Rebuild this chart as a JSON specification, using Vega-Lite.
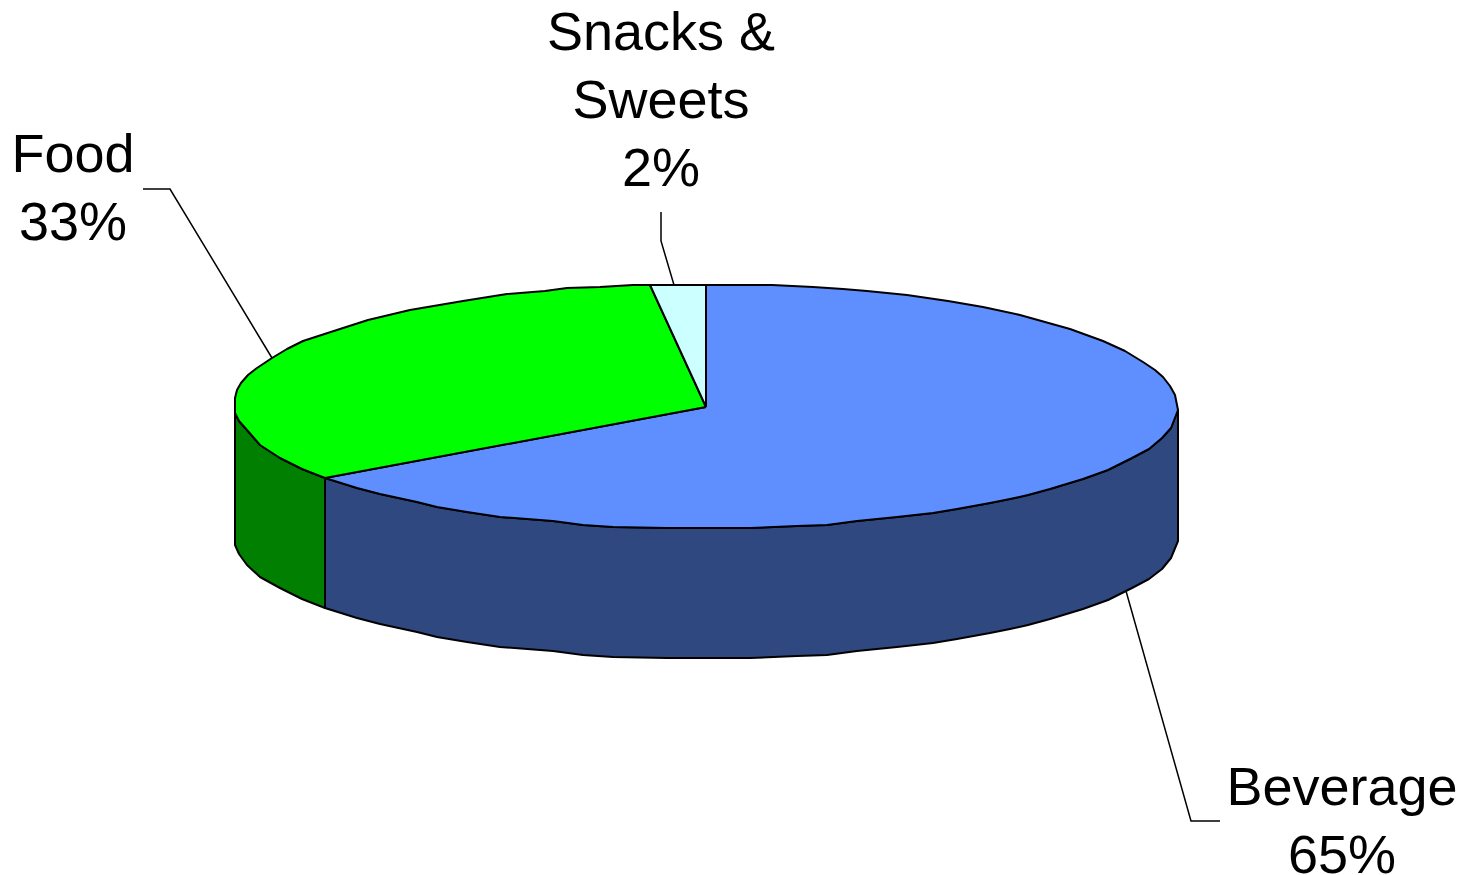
{"$schema":"https://vega.github.io/schema/vega-lite/v6.json","width":1477,"height":875,"padding":0,"autosize":"none","background":"white","view":{"stroke":null},
"datasets":{
"shapes":[
{"part":"Food side","i":0,"x":235,"y":413},{"part":"Food side","i":0.5,"x":239,"y":421},{"part":"Food side","i":1,"x":247,"y":430},{"part":"Food side","i":2,"x":260,"y":445},{"part":"Food side","i":3,"x":280,"y":458},{"part":"Food side","i":3.5,"x":302,"y":469},{"part":"Food side","i":4,"x":325,"y":478},{"part":"Food side","i":5,"x":325,"y":608},{"part":"Food side","i":5.5,"x":302,"y":599},{"part":"Food side","i":6,"x":280,"y":588},{"part":"Food side","i":7,"x":260,"y":577},{"part":"Food side","i":8,"x":247,"y":565},{"part":"Food side","i":9,"x":239,"y":554},{"part":"Food side","i":10,"x":235,"y":545},{"part":"Food side","i":11,"x":235,"y":413},
{"part":"Beverage side","i":0,"x":325,"y":478},{"part":"Beverage side","i":1,"x":357,"y":488},{"part":"Beverage side","i":2,"x":380,"y":494},{"part":"Beverage side","i":3,"x":417,"y":502},{"part":"Beverage side","i":4,"x":437,"y":507},{"part":"Beverage side","i":5,"x":467,"y":512},{"part":"Beverage side","i":6,"x":500,"y":517},{"part":"Beverage side","i":7,"x":553,"y":521},{"part":"Beverage side","i":8,"x":583,"y":525},{"part":"Beverage side","i":9,"x":613,"y":527},{"part":"Beverage side","i":10,"x":667,"y":528},{"part":"Beverage side","i":11,"x":717,"y":528},{"part":"Beverage side","i":12,"x":750,"y":528},{"part":"Beverage side","i":13,"x":797,"y":526},{"part":"Beverage side","i":14,"x":827,"y":525},{"part":"Beverage side","i":15,"x":857,"y":521},{"part":"Beverage side","i":16,"x":897,"y":517},{"part":"Beverage side","i":17,"x":933,"y":513},{"part":"Beverage side","i":18,"x":957,"y":509},{"part":"Beverage side","i":19,"x":990,"y":503},{"part":"Beverage side","i":20,"x":1010,"y":499},{"part":"Beverage side","i":21,"x":1028,"y":495},{"part":"Beverage side","i":22,"x":1050,"y":489},{"part":"Beverage side","i":23,"x":1083,"y":479},{"part":"Beverage side","i":23.5,"x":1108,"y":470},{"part":"Beverage side","i":24,"x":1132,"y":458},{"part":"Beverage side","i":24.5,"x":1149,"y":449},{"part":"Beverage side","i":25,"x":1162,"y":438},{"part":"Beverage side","i":25.5,"x":1171,"y":428},{"part":"Beverage side","i":26,"x":1178,"y":410},{"part":"Beverage side","i":27,"x":1178,"y":541},{"part":"Beverage side","i":28,"x":1171,"y":558},{"part":"Beverage side","i":29,"x":1162,"y":569},{"part":"Beverage side","i":29.5,"x":1149,"y":579},{"part":"Beverage side","i":30,"x":1132,"y":588},{"part":"Beverage side","i":30.5,"x":1108,"y":600},{"part":"Beverage side","i":31,"x":1083,"y":609},{"part":"Beverage side","i":32,"x":1050,"y":619},{"part":"Beverage side","i":33,"x":1028,"y":625},{"part":"Beverage side","i":34,"x":1010,"y":629},{"part":"Beverage side","i":35,"x":990,"y":633},{"part":"Beverage side","i":36,"x":957,"y":639},{"part":"Beverage side","i":37,"x":933,"y":643},{"part":"Beverage side","i":38,"x":897,"y":647},{"part":"Beverage side","i":39,"x":857,"y":651},{"part":"Beverage side","i":40,"x":827,"y":655},{"part":"Beverage side","i":41,"x":797,"y":656},{"part":"Beverage side","i":42,"x":750,"y":658},{"part":"Beverage side","i":43,"x":717,"y":658},{"part":"Beverage side","i":44,"x":667,"y":658},{"part":"Beverage side","i":45,"x":613,"y":657},{"part":"Beverage side","i":46,"x":583,"y":655},{"part":"Beverage side","i":47,"x":553,"y":651},{"part":"Beverage side","i":48,"x":500,"y":647},{"part":"Beverage side","i":49,"x":467,"y":642},{"part":"Beverage side","i":50,"x":437,"y":637},{"part":"Beverage side","i":51,"x":417,"y":632},{"part":"Beverage side","i":52,"x":380,"y":624},{"part":"Beverage side","i":53,"x":357,"y":618},{"part":"Beverage side","i":54,"x":325,"y":608},{"part":"Beverage side","i":55,"x":325,"y":478},
{"part":"Beverage top","i":0,"x":706,"y":407},{"part":"Beverage top","i":1,"x":706,"y":285},{"part":"Beverage top","i":2,"x":772,"y":285},{"part":"Beverage top","i":3,"x":813,"y":287},{"part":"Beverage top","i":4,"x":843,"y":289},{"part":"Beverage top","i":5,"x":867,"y":291},{"part":"Beverage top","i":6,"x":907,"y":295},{"part":"Beverage top","i":7,"x":948,"y":301},{"part":"Beverage top","i":8,"x":983,"y":307},{"part":"Beverage top","i":9,"x":1020,"y":315},{"part":"Beverage top","i":10,"x":1045,"y":322},{"part":"Beverage top","i":11,"x":1070,"y":329},{"part":"Beverage top","i":12,"x":1103,"y":341},{"part":"Beverage top","i":12.5,"x":1125,"y":351},{"part":"Beverage top","i":13,"x":1143,"y":362},{"part":"Beverage top","i":13.5,"x":1155,"y":370},{"part":"Beverage top","i":14,"x":1163,"y":377},{"part":"Beverage top","i":14.5,"x":1170,"y":386},{"part":"Beverage top","i":15,"x":1175,"y":395},{"part":"Beverage top","i":16,"x":1178,"y":410},{"part":"Beverage top","i":16.5,"x":1171,"y":428},{"part":"Beverage top","i":17,"x":1162,"y":438},{"part":"Beverage top","i":17.5,"x":1149,"y":449},{"part":"Beverage top","i":18,"x":1132,"y":458},{"part":"Beverage top","i":18.5,"x":1108,"y":470},{"part":"Beverage top","i":19,"x":1083,"y":479},{"part":"Beverage top","i":20,"x":1050,"y":489},{"part":"Beverage top","i":21,"x":1028,"y":495},{"part":"Beverage top","i":22,"x":1010,"y":499},{"part":"Beverage top","i":23,"x":990,"y":503},{"part":"Beverage top","i":24,"x":957,"y":509},{"part":"Beverage top","i":25,"x":933,"y":513},{"part":"Beverage top","i":26,"x":897,"y":517},{"part":"Beverage top","i":27,"x":857,"y":521},{"part":"Beverage top","i":28,"x":827,"y":525},{"part":"Beverage top","i":29,"x":797,"y":526},{"part":"Beverage top","i":30,"x":750,"y":528},{"part":"Beverage top","i":31,"x":717,"y":528},{"part":"Beverage top","i":32,"x":667,"y":528},{"part":"Beverage top","i":33,"x":613,"y":527},{"part":"Beverage top","i":34,"x":583,"y":525},{"part":"Beverage top","i":35,"x":553,"y":521},{"part":"Beverage top","i":36,"x":500,"y":517},{"part":"Beverage top","i":37,"x":467,"y":512},{"part":"Beverage top","i":38,"x":437,"y":507},{"part":"Beverage top","i":39,"x":417,"y":502},{"part":"Beverage top","i":40,"x":380,"y":494},{"part":"Beverage top","i":41,"x":357,"y":488},{"part":"Beverage top","i":42,"x":325,"y":478},{"part":"Beverage top","i":43,"x":706,"y":407},
{"part":"Food top","i":0,"x":706,"y":407},{"part":"Food top","i":1,"x":325,"y":478},{"part":"Food top","i":1.5,"x":302,"y":469},{"part":"Food top","i":2,"x":280,"y":458},{"part":"Food top","i":3,"x":260,"y":445},{"part":"Food top","i":4,"x":247,"y":430},{"part":"Food top","i":4.5,"x":239,"y":421},{"part":"Food top","i":5,"x":235,"y":413},{"part":"Food top","i":6,"x":235,"y":398},{"part":"Food top","i":6.5,"x":237,"y":390},{"part":"Food top","i":7,"x":241,"y":383},{"part":"Food top","i":7.5,"x":248,"y":375},{"part":"Food top","i":8,"x":257,"y":368},{"part":"Food top","i":9,"x":272,"y":358},{"part":"Food top","i":9.5,"x":287,"y":349},{"part":"Food top","i":10,"x":303,"y":341},{"part":"Food top","i":11,"x":340,"y":329},{"part":"Food top","i":12,"x":368,"y":320},{"part":"Food top","i":13,"x":410,"y":310},{"part":"Food top","i":14,"x":463,"y":301},{"part":"Food top","i":15,"x":507,"y":294},{"part":"Food top","i":16,"x":545,"y":291},{"part":"Food top","i":17,"x":567,"y":288},{"part":"Food top","i":18,"x":600,"y":287},{"part":"Food top","i":19,"x":633,"y":285},{"part":"Food top","i":20,"x":650,"y":285},{"part":"Food top","i":21,"x":706,"y":407},
{"part":"Snacks top","i":0,"x":706,"y":407},{"part":"Snacks top","i":1,"x":650,"y":285},{"part":"Snacks top","i":2,"x":706,"y":285},{"part":"Snacks top","i":3,"x":706,"y":407}
],
"leaders":[
{"slice":"Food","i":0,"x":143,"y":189},{"slice":"Food","i":1,"x":170,"y":189},{"slice":"Food","i":2,"x":272,"y":358},
{"slice":"Snacks","i":0,"x":661,"y":212},{"slice":"Snacks","i":1,"x":661,"y":241},{"slice":"Snacks","i":2,"x":674,"y":285},
{"slice":"Beverage","i":0,"x":1126,"y":591},{"slice":"Beverage","i":1,"x":1191,"y":821},{"slice":"Beverage","i":2,"x":1220,"y":821}
],
"labels":[
{"text":"Snacks &","x":661,"y":50},{"text":"Sweets","x":661,"y":118},{"text":"2%","x":661,"y":186},
{"text":"Food","x":73,"y":172},{"text":"33%","x":73,"y":240},
{"text":"Beverage","x":1342,"y":805},{"text":"65%","x":1342,"y":873}
]},
"layer":[
{"data":{"name":"leaders"},"mark":{"type":"line","stroke":"black","strokeWidth":1.5},
"encoding":{"x":{"field":"x","type":"quantitative","scale":{"domain":[0,1477]},"axis":null},"y":{"field":"y","type":"quantitative","scale":{"domain":[875,0]},"axis":null},"detail":{"field":"slice"},"order":{"field":"i","type":"quantitative"}}},
{"data":{"name":"shapes"},"mark":{"type":"line","stroke":"black","strokeWidth":2,"strokeJoin":"round"},
"encoding":{"x":{"field":"x","type":"quantitative","scale":{"domain":[0,1477]},"axis":null},"y":{"field":"y","type":"quantitative","scale":{"domain":[875,0]},"axis":null},"detail":{"field":"part"},"order":{"field":"i","type":"quantitative"},
"fill":{"field":"part","type":"nominal","legend":null,"scale":{"domain":["Food side","Beverage side","Beverage top","Food top","Snacks top"],"range":["#007F00","#2F4880","#5F8FFF","#00FF00","#CCFFFF"]}}}},
{"data":{"name":"labels"},"mark":{"type":"text","font":"Liberation Sans","fontSize":54,"align":"center","baseline":"alphabetic","color":"black"},
"encoding":{"x":{"field":"x","type":"quantitative","scale":{"domain":[0,1477]},"axis":null},"y":{"field":"y","type":"quantitative","scale":{"domain":[875,0]},"axis":null},"text":{"field":"text"}}}
]}
